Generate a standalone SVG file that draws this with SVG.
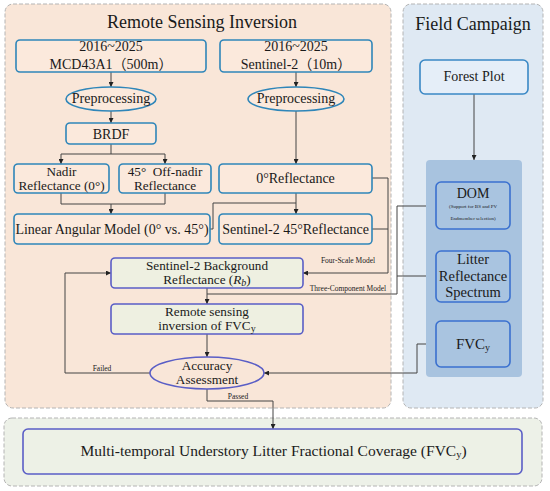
<svg xmlns="http://www.w3.org/2000/svg" width="550" height="491" viewBox="0 0 550 491">
<style>
text{font-family:"Liberation Serif","Times New Roman","Noto Sans CJK SC",serif;fill:#1a1a1a;text-anchor:middle}
.panel{stroke:#b4b4b4;stroke-width:1;stroke-dasharray:4 2}
.box{fill:#fbe9dc;stroke:#2f86b9;stroke-width:1.6}
.pbox{fill:#eef0e1;stroke:#5a5ec6;stroke-width:1.6}
.fbox{fill:#a9c4e0;stroke:#3a70cf;stroke-width:1.6}
.t14{font-size:14px}
.t2{font-size:13.2px}
.small{font-size:7.5px}
.conn path{fill:none;stroke:#454545;stroke-width:1}
</style>
<defs>
<marker id="arr" viewBox="0 0 6 6" refX="6" refY="3" markerWidth="5" markerHeight="5" orient="auto" markerUnits="userSpaceOnUse">
<path d="M0,0 L6,3 L0,6 Z" fill="#222"/>
</marker>
</defs>

<g id="panels">
<rect class="panel" x="5" y="4" width="386" height="404" rx="8" fill="#f9e6d8"/>
<rect class="panel" x="403" y="4" width="140" height="404" rx="8" fill="#dfe9f3"/>
<rect class="panel" x="4" y="418" width="538" height="68" rx="8" fill="#edf1e8"/>
<text x="202" y="28" font-size="18">Remote Sensing Inversion</text>
<text x="473" y="30" font-size="18">Field Campaign</text>
</g>

<g class="conn" id="connectors">
<path d="M111,72 V87" marker-end="url(#arr)"/>
<path d="M111,111 V123" marker-end="url(#arr)"/>
<path d="M111,144 V154 H61 V164" marker-end="url(#arr)"/>
<path d="M111,154 H165 V164" marker-end="url(#arr)"/>
<path d="M61,193 V204 H165 V193"/>
<path d="M111,204 V214" marker-end="url(#arr)"/>
<path d="M296,72 V87" marker-end="url(#arr)"/>
<path d="M296,111 V164" marker-end="url(#arr)"/>
<path d="M296,193 V214" marker-end="url(#arr)"/>
<path d="M210,229 H213 V203 H296"/>
<path d="M372,178 H388 V273 H303" marker-end="url(#arr)"/>
<path d="M372,229 H388"/>
<path d="M436,206 H397 V294 H207"/>
<path d="M436,276 H397"/>
<path d="M207,288 V304" marker-end="url(#arr)"/>
<path d="M207,334 V357" marker-end="url(#arr)"/>
<path d="M436,344 H417 V373 H264" marker-end="url(#arr)"/>
<path d="M150,373 H65 V273 H111" marker-end="url(#arr)"/>
<path d="M207,389 V401 H273 V429" marker-end="url(#arr)"/>
<path d="M474,94 V160" marker-end="url(#arr)"/>
<text class="small" x="348" y="263">Four-Scale Model</text>
<text class="small" x="348" y="291">Three-Component Model</text>
<text class="small" x="102" y="371">Failed</text>
<text class="small" x="238" y="399">Passed</text>
</g>

<g id="mcd43a1">
<rect class="box" x="16" y="40" width="190" height="32" rx="4"/>
<text class="t14" x="111" y="51">2016~2025</text>
<text class="t14" x="111" y="69">MCD43A1（500m）</text>
</g>
<g id="sentinel2">
<rect class="box" x="220" y="40" width="152" height="32" rx="4"/>
<text class="t14" x="296" y="51">2016~2025</text>
<text class="t14" x="296" y="69">Sentinel-2（10m）</text>
</g>
<g id="prep1">
<ellipse class="box" cx="111" cy="99" rx="45" ry="12"/>
<text class="t14" x="111" y="103">Preprocessing</text>
</g>
<g id="prep2">
<ellipse class="box" cx="296" cy="99" rx="48" ry="12"/>
<text class="t14" x="296" y="103">Preprocessing</text>
</g>
<g id="brdf">
<rect class="box" x="66" y="123" width="90" height="21" rx="4"/>
<text class="t14" x="111" y="139">BRDF</text>
</g>
<g id="nadir">
<rect class="box" x="14" y="164" width="95" height="29" rx="4"/>
<text class="t2" x="61.5" y="175.5">Nadir</text>
<text class="t2" x="61.5" y="189.5">Reflectance (0°)</text>
</g>
<g id="offnadir">
<rect class="box" x="119" y="164" width="92" height="29" rx="4"/>
<text class="t2" x="165" y="175.5" xml:space="preserve">45°  Off-nadir</text>
<text class="t2" x="165" y="189.5">Reflectance</text>
</g>
<g id="refl0">
<rect class="box" x="219" y="164" width="153" height="29" rx="4"/>
<text class="t14" x="295.5" y="183">0°Reflectance</text>
</g>
<g id="linear">
<rect class="box" x="14" y="214" width="196" height="30" rx="4"/>
<text class="t14" x="112" y="234">Linear Angular Model (0° vs. 45°)</text>
</g>
<g id="refl45">
<rect class="box" x="219" y="214" width="153" height="30" rx="4"/>
<text class="t14" x="295.5" y="234">Sentinel-2 45°Reflectance</text>
</g>
<g id="background">
<rect class="pbox" x="111" y="258" width="192" height="30" rx="4"/>
<text class="t2" x="207" y="270">Sentinel-2 Background</text>
<text class="t2" x="207" y="284">Reflectance (<tspan font-style="italic">R</tspan><tspan font-style="italic" font-size="10" dy="2">b</tspan><tspan dy="-2">)</tspan></text>
</g>
<g id="inversion">
<rect class="pbox" x="111" y="304" width="192" height="30" rx="4"/>
<text class="t2" x="207" y="316">Remote sensing</text>
<text class="t2" x="207" y="330">inversion of FVC<tspan font-size="10" dy="2">y</tspan></text>
</g>
<g id="accuracy">
<ellipse cx="207" cy="373" rx="57" ry="16" fill="#f9e6d8" stroke="#5a5ec6" stroke-width="1.6"/>
<text class="t2" x="207" y="369.5">Accuracy</text>
<text class="t2" x="207" y="383.5">Assessment</text>
</g>

<g id="forestplot">
<rect x="420" y="60" width="108" height="34" rx="5" fill="#e5eef8" stroke="#3a88c5" stroke-width="1.6"/>
<text class="t14" x="474" y="81">Forest Plot</text>
</g>
<g id="fieldgroup">
<rect x="426" y="160" width="96" height="217" rx="4" fill="#a8c3df"/>
</g>
<g id="dom">
<rect class="fbox" x="436" y="182" width="74" height="47" rx="5"/>
<text class="t14" x="473" y="198">DOM</text>
<text x="473" y="208" font-size="5">(Support for BS and PV</text>
<text x="473" y="220" font-size="5">Endmember selection)</text>
</g>
<g id="litter">
<rect class="fbox" x="436" y="251" width="74" height="51" rx="5"/>
<text x="473" y="264" font-size="14.5">Litter</text>
<text x="473" y="281" font-size="14.5">Reflectance</text>
<text x="473" y="297" font-size="14.5">Spectrum</text>
</g>
<g id="fvc">
<rect class="fbox" x="436" y="321" width="74" height="46" rx="5"/>
<text x="473" y="349" font-size="15">FVC<tspan font-size="10" dy="2">y</tspan></text>
</g>

<g id="output">
<rect x="23" y="429" width="499" height="45" rx="5" fill="#edf1e6" stroke="#5a5ec6" stroke-width="1.6"/>
<text x="273.5" y="456" font-size="15.5">Multi-temporal Understory Litter Fractional Coverage (FVC<tspan font-size="10.5" dy="2">y</tspan><tspan dy="-2">)</tspan></text>
</g>
</svg>
